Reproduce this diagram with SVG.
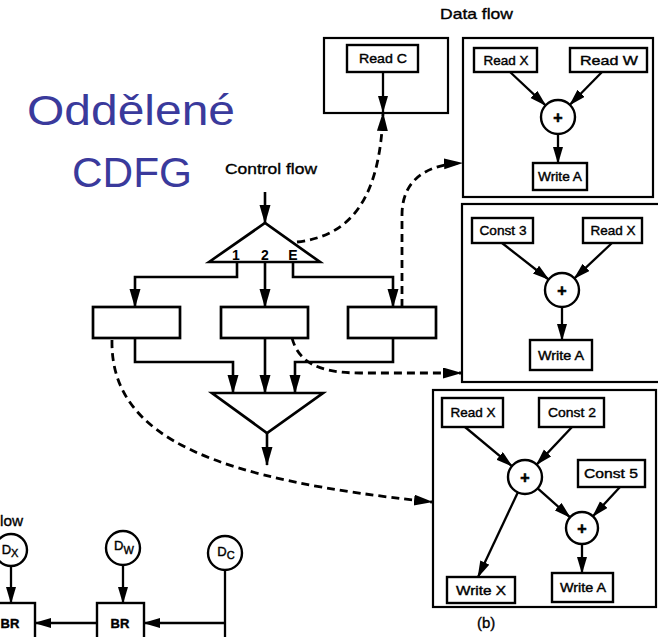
<svg xmlns="http://www.w3.org/2000/svg" width="658" height="637" viewBox="0 0 658 637">
  <defs>
    <style>
      .title { font-family: "Liberation Sans", Arial, sans-serif; font-size: 43px; fill: #3a3a9c; text-anchor: middle; }
      .cap { font-family: "Liberation Sans", Arial, sans-serif; font-size: 15px; fill: #000; stroke: #000; stroke-width: 0.35; }
      .lbl { font-family: "Liberation Sans", Arial, sans-serif; font-size: 13px; fill: #000; stroke: #000; stroke-width: 0.4; text-anchor: middle; }
      .plus { font-family: "Liberation Sans", Arial, sans-serif; font-size: 16px; font-weight: bold; fill: #000; stroke: #000; stroke-width: 0.6; text-anchor: middle; }
      .num { font-family: "Liberation Sans", Arial, sans-serif; font-size: 14px; font-weight: bold; fill: #000; text-anchor: middle; }
      .box { fill: #fff; stroke: #000; stroke-width: 2.4; }
      .frame { fill: none; stroke: #000; stroke-width: 2.2; }
      .shape { fill: #fff; stroke: #000; stroke-width: 2.7; stroke-linejoin: miter; }
      .wire { fill: none; stroke: #000; stroke-width: 2.6; }
      .thin { fill: none; stroke: #000; stroke-width: 2.3; }
      .dash { stroke-dasharray: 8 5; stroke-width: 2.8; }
    </style>
    <marker id="ah" markerUnits="userSpaceOnUse" markerWidth="20" markerHeight="12" refX="18" refY="5.5" orient="auto">
      <path d="M0,0 L19,5.5 L0,11 z" fill="#000"/>
    </marker>
    <marker id="ahs" markerUnits="userSpaceOnUse" markerWidth="18" markerHeight="11" refX="16" refY="5" orient="auto">
      <path d="M0,0 L17,5 L0,10 z" fill="#000"/>
    </marker>
  </defs>

  <rect width="658" height="637" fill="#fff"/>

  <!-- headings -->
  <g id="heading">
    <text class="title" x="131" y="125" textLength="208" lengthAdjust="spacingAndGlyphs">Oddělené</text>
    <text class="title" x="132" y="187" textLength="120" lengthAdjust="spacingAndGlyphs">CDFG</text>
    <text class="cap" x="440" y="19" textLength="73" lengthAdjust="spacingAndGlyphs">Data flow</text>
    <text class="cap" x="225" y="174" textLength="92" lengthAdjust="spacingAndGlyphs">Control flow</text>
    <text class="cap" x="0" y="526" textLength="23" lengthAdjust="spacingAndGlyphs">low</text>
    <text class="cap" x="477" y="628" font-size="14">(b)</text>
  </g>

  <!-- control flow graph -->
  <g id="cf-fork">
    <polygon class="shape" points="209,262 265,223 320,262"/>
    <text class="num" x="236" y="260">1</text>
    <text class="num" x="265" y="260">2</text>
    <text class="num" x="293" y="260">E</text>
  </g>
  <g id="cf-block-1"><rect class="shape" x="93" y="307" width="87" height="31"/></g>
  <g id="cf-block-2"><rect class="shape" x="221" y="307" width="87" height="31"/></g>
  <g id="cf-block-3"><rect class="shape" x="348" y="307" width="88" height="31"/></g>
  <g id="cf-join"><polygon class="shape" points="212,393 323,393 267,433"/></g>

  <!-- data flow: Read C -->
  <g id="df-c">
    <rect class="frame" x="324" y="38" width="124" height="75"/>
    <g id="df-c-read"><rect class="box" x="347" y="45" width="71" height="27"/>
      <text class="lbl" x="383" y="63" textLength="48" lengthAdjust="spacingAndGlyphs">Read C</text></g>
  </g>

  <!-- data flow: A = X + W -->
  <g id="df-xw">
    <rect class="frame" x="463" y="38" width="190" height="159"/>
    <g id="df-xw-readx"><rect class="box" x="474" y="48" width="63" height="24"/>
      <text class="lbl" x="506" y="65" textLength="45" lengthAdjust="spacingAndGlyphs">Read X</text></g>
    <g id="df-xw-readw"><rect class="box" x="570" y="48" width="77" height="24"/>
      <text class="lbl" x="609" y="65" textLength="58" lengthAdjust="spacingAndGlyphs">Read W</text></g>
    <g id="df-xw-add"><circle class="box" cx="558" cy="117" r="17"/>
      <text class="plus" x="558" y="123">+</text></g>
    <g id="df-xw-writea"><rect class="box" x="533" y="163" width="54" height="27"/>
      <text class="lbl" x="560" y="181" textLength="44" lengthAdjust="spacingAndGlyphs">Write A</text></g>
  </g>

  <!-- data flow: A = 3 + X -->
  <g id="df-3x">
    <rect class="frame" x="462" y="204" width="200" height="178"/>
    <g id="df-3x-const3"><rect class="box" x="472" y="218" width="61" height="25"/>
      <text class="lbl" x="503" y="235" textLength="47" lengthAdjust="spacingAndGlyphs">Const 3</text></g>
    <g id="df-3x-readx"><rect class="box" x="583" y="218" width="59" height="25"/>
      <text class="lbl" x="613" y="235" textLength="45" lengthAdjust="spacingAndGlyphs">Read X</text></g>
    <g id="df-3x-add"><circle class="box" cx="562" cy="290" r="17"/>
      <text class="plus" x="562" y="296">+</text></g>
    <g id="df-3x-writea"><rect class="box" x="530" y="340" width="62" height="30"/>
      <text class="lbl" x="561" y="360" textLength="46" lengthAdjust="spacingAndGlyphs">Write A</text></g>
  </g>

  <!-- data flow: X = X + 2, A = X + 5 -->
  <g id="df-x2">
    <rect class="frame" x="433" y="390" width="223" height="217"/>
    <g id="df-x2-readx"><rect class="box" x="442" y="398" width="61" height="29"/>
      <text class="lbl" x="473" y="417" textLength="45" lengthAdjust="spacingAndGlyphs">Read X</text></g>
    <g id="df-x2-const2"><rect class="box" x="539" y="398" width="65" height="29"/>
      <text class="lbl" x="572" y="417" textLength="48" lengthAdjust="spacingAndGlyphs">Const 2</text></g>
    <g id="df-x2-add1"><circle class="box" cx="525" cy="477" r="17"/>
      <text class="plus" x="525" y="483">+</text></g>
    <g id="df-x2-const5"><rect class="box" x="578" y="460" width="67" height="27"/>
      <text class="lbl" x="611" y="478" textLength="54" lengthAdjust="spacingAndGlyphs">Const 5</text></g>
    <g id="df-x2-add2"><circle class="box" cx="582" cy="528" r="16"/>
      <text class="plus" x="582" y="534">+</text></g>
    <g id="df-x2-writex"><rect class="box" x="447" y="577" width="68" height="26"/>
      <text class="lbl" x="481" y="595" textLength="50" lengthAdjust="spacingAndGlyphs">Write X</text></g>
    <g id="df-x2-writea"><rect class="box" x="552" y="573" width="61" height="29"/>
      <text class="lbl" x="583" y="592" textLength="46" lengthAdjust="spacingAndGlyphs">Write A</text></g>
  </g>

  <!-- dependency graph fragment -->
  <g id="dep-dx"><circle class="box" cx="11" cy="550" r="16"/>
    <text class="lbl" x="10" y="554" font-size="12">D<tspan font-size="11" dy="3">X</tspan></text></g>
  <g id="dep-dw"><circle class="box" cx="123" cy="548" r="17"/>
    <text class="lbl" x="124" y="550" font-size="12">D<tspan font-size="11" dy="4">W</tspan></text></g>
  <g id="dep-dc"><circle class="box" cx="225" cy="553" r="17"/>
    <text class="lbl" x="226" y="556" font-size="12">D<tspan font-size="11" dy="3">C</tspan></text></g>
  <g id="dep-br1"><rect class="box" x="-5" y="603" width="40" height="40"/>
    <text class="lbl" x="10" y="628" font-size="12" font-weight="bold">BR</text></g>
  <g id="dep-br2"><rect class="box" x="97" y="603" width="47" height="40"/>
    <text class="lbl" x="120" y="628" font-size="12" font-weight="bold">BR</text></g>

  <!-- connectors -->
  <g id="connectors">
    <!-- control flow -->
    <path class="wire" d="M265,192 V223" marker-end="url(#ah)"/>
    <path class="wire" d="M237,262 V277 H135 V307" marker-end="url(#ah)"/>
    <path class="wire" d="M265,262 V307" marker-end="url(#ah)"/>
    <path class="wire" d="M293,262 V277 H393 V307" marker-end="url(#ah)"/>
    <path class="wire" d="M135,338 V362 H233 V393" marker-end="url(#ah)"/>
    <path class="wire" d="M265,338 V393" marker-end="url(#ah)"/>
    <path class="wire" d="M393,338 V362 H295 V393" marker-end="url(#ah)"/>
    <path class="wire" d="M267,433 V465" marker-end="url(#ah)"/>

    <!-- block to data flow links -->
    <path class="wire dash" d="M297,242 C350,236 380,200 383,113" marker-end="url(#ah)"/>
    <path class="wire dash" d="M402,307 L402,215 C402,185 420,165 462,163" marker-end="url(#ah)"/>
    <path class="wire dash" d="M292,338 C298,360 315,373 360,373 L461,373" marker-end="url(#ah)"/>
    <path class="wire dash" d="M112,340 C110,440 220,480 432,502" marker-end="url(#ah)"/>

    <!-- data flow edges -->
    <path class="thin" d="M383,72 V112" marker-end="url(#ahs)"/>
    <path class="thin" d="M510,72 L545.6,105.4" marker-end="url(#ahs)"/>
    <path class="thin" d="M602,72 L569.9,104.8" marker-end="url(#ahs)"/>
    <path class="thin" d="M558,134 V163" marker-end="url(#ahs)"/>

    <path class="thin" d="M502,243 L548.6,279.5" marker-end="url(#ahs)"/>
    <path class="thin" d="M612,243 L574.4,278.4" marker-end="url(#ahs)"/>
    <path class="thin" d="M562,307 V340" marker-end="url(#ahs)"/>

    <path class="thin" d="M465,427 L511.9,466.1" marker-end="url(#ahs)"/>
    <path class="thin" d="M572,427 L536.6,464.6" marker-end="url(#ahs)"/>
    <path class="thin" d="M517.8,492.4 L478,577" marker-end="url(#ahs)"/>
    <path class="thin" d="M537.7,488.3 L570.1,517.3" marker-end="url(#ahs)"/>
    <path class="thin" d="M620,487 L592.9,516.3" marker-end="url(#ahs)"/>
    <path class="thin" d="M582,544 V573" marker-end="url(#ahs)"/>

    <!-- dependency edges -->
    <path class="thin" d="M11,566 V603" marker-end="url(#ahs)"/>
    <path class="thin" d="M123,565 V603" marker-end="url(#ahs)"/>
    <path class="thin" d="M225,570 V640"/>
    <path class="thin" d="M225,623 H144" marker-end="url(#ahs)"/>
    <path class="thin" d="M97,623 H35" marker-end="url(#ahs)"/>
  </g>
</svg>
